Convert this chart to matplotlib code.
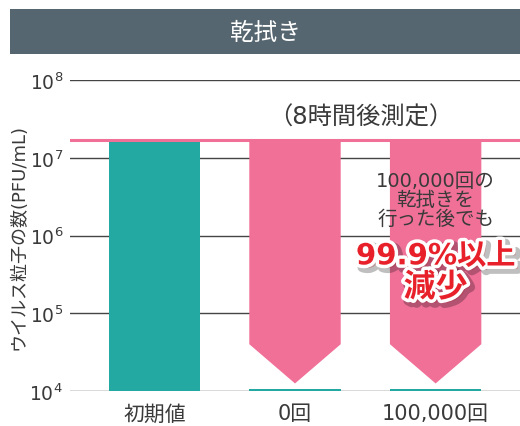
import matplotlib
matplotlib.use("Agg")
import matplotlib.pyplot as plt
from matplotlib.patches import Polygon, Rectangle
import matplotlib.patheffects as pe

plt.rcParams['font.family'] = ['DejaVu Sans', 'Noto Sans CJK JP']
plt.rcParams['mathtext.default'] = 'regular'

# data
categories = ['初期値', '0回', '100,000回']
initial_value = 1.7e7
counts = [1.7e7, 1.06e4, 1.06e4]
decades = [1e4, 1e5, 1e6, 1e7, 1e8]
decade_labels = ['$10^{4}$', '$10^{5}$', '$10^{6}$', '$10^{7}$', '$10^{8}$']

TEAL = '#23a9a2'
PINK = '#f07098'
TEXT = '#3a3a3a'
BAR_W = 0.65

fig = plt.figure(figsize=(5.2, 4.27), dpi=100)

# header band
fig.patches.append(Rectangle((10 / 520, 0.871), 1 - 10 / 520, 0.106,
                             transform=fig.transFigure, facecolor='#566670',
                             edgecolor='none', zorder=0))
fig.text(265 / 520, 0.923, '乾拭き', color='white', fontsize=17,
         ha='center', va='center')

ax = fig.add_axes([70 / 520, 0.082, 1 - 70 / 520, 0.728])
ax.set_yscale('log')
ax.set_ylim(1e4, 1e8)
ax.set_xlim(-0.6, 2.6)

for d in decades:
    ax.axhline(d, color='#444444', lw=1.0, zorder=1)

x = list(range(len(categories)))

# reduction arrows behind the measured bars
for xi in x[1:]:
    l, r = xi - BAR_W / 2, xi + BAR_W / 2
    shoulder, tip = 4.0e4, 1.25e4
    arrow = Polygon([(l, initial_value), (r, initial_value), (r, shoulder),
                     (xi, tip), (l, shoulder)], closed=True,
                    facecolor=PINK, edgecolor='none', zorder=2)
    ax.add_patch(arrow)

ax.bar(x, [c - 1e4 for c in counts], bottom=1e4, width=BAR_W,
       color=TEAL, zorder=3)
ax.axhline(initial_value, color=PINK, lw=2.2, zorder=4)

ax.set_yticks(decades)
ax.set_yticklabels(decade_labels)
ax.minorticks_off()
ax.set_xticks(x)
ax.set_xticklabels(categories)
ax.tick_params(axis='both', length=0, colors=TEXT)
ax.tick_params(axis='y', labelsize=13.5, pad=5)
ax.tick_params(axis='x', labelsize=15, pad=9)
for s in ax.spines.values():
    s.set_visible(False)

ax.set_ylabel('ウイルス粒子の数(PFU/mL)', fontsize=13, color=TEXT,
              labelpad=1)

ax.text(1.47, 3.4e7, '（8時間後測定）', fontsize=17.5, color=TEXT,
        ha='center', va='center', zorder=5)
ax.text(2.0, 2.9e6, '100,000回の\n乾拭きを\n行った後でも', fontsize=14,
        color=TEXT, ha='center', va='center', linespacing=1.0, zorder=5)

effects = [pe.Stroke(linewidth=7, foreground='#000000', alpha=0.25,
                     offset=(2.5, -2.5)),
           pe.Stroke(linewidth=5, foreground='white'),
           pe.Normal()]
ax.text(2.0, 5.4e5, '99.9%以上', fontsize=21, fontweight='bold',
        color='#e8202a', ha='center', va='center', zorder=6,
        path_effects=effects)
ax.text(2.0, 2.1e5, '減少', fontsize=23, fontweight='bold',
        color='#e8202a', ha='center', va='center', zorder=6,
        path_effects=effects)

fig.savefig('out.png', dpi=100)
